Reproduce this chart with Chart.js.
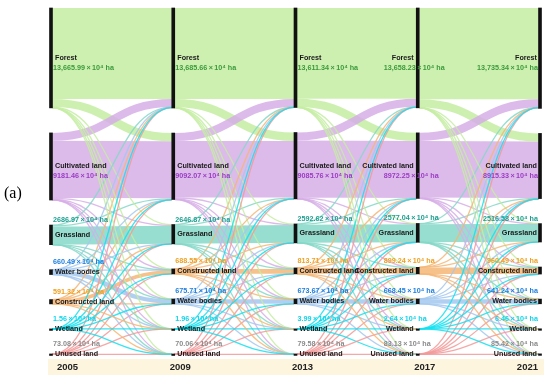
<!DOCTYPE html>
<html>
<head>
<meta charset="utf-8">
<script src="https://cdn.jsdelivr.net/npm/chart.js@4.4.1/dist/chart.umd.min.js"></script>
<style>
  html, body { margin: 0; padding: 0; background: #fff; }
  #wrap { width: 550px; height: 386px; position: relative; }
</style>
</head>
<body>
<div id="wrap"><canvas id="sankey"></canvas></div>
<script>
const years = [2005, 2009, 2013, 2017, 2021];
const landTypes = ["Forest", "Cultivated land", "Grassland", "Water bodies", "Constructed land", "Wetland", "Unused land"];

// area per year, x10^4 ha
const forest = [13665.99, 13685.66, 13611.34, 13658.23, 13735.34];
const cultivated = [9181.46, 9092.07, 9085.76, 8972.25, 8915.33];
const grassland = [2686.97, 2646.87, 2592.62, 2577.04, 2516.58];
const waterBodies = [660.49, 675.71, 673.67, 668.45, 641.24];
const constructed = [591.32, 688.55, 813.71, 899.24, 960.49];
const wetland = [1.56, 1.96, 3.99, 2.64, 6.46];
const unused = [73.08, 70.06, 79.58, 83.13, 85.42];
const areas = [forest, cultivated, grassland, waterBodies, constructed, wetland, unused];

// top-to-bottom order of the land types in each year column
const columnOrder = [
  [0, 1, 2, 3, 4, 5, 6],
  [0, 1, 2, 4, 3, 5, 6],
  [0, 1, 2, 4, 3, 5, 6],
  [0, 1, 2, 4, 3, 5, 6],
  [0, 1, 2, 4, 3, 5, 6]
];

// transfers, row = from, column = to (landTypes order), x10^4 ha
const flows0509 = [
  [12440, 1120, 45, 15, 35, 0.2, 10.8],
  [1090, 7800, 130, 40, 115, 0.3, 6.2],
  [40, 170, 2460, 5, 6, 0.2, 5.8],
  [10, 12, 5, 600, 25, 0.3, 8.2],
  [40, 30, 6, 5, 510, 0.1, 0.2],
  [0.3, 0.3, 0.2, 0.2, 0.2, 0.2, 0.2],
  [4, 6, 4, 10, 1, 0.5, 47.6]
];
const flows0913 = [
  [12440, 1150, 40, 12, 35, 0.3, 8.4],
  [1090, 7745, 110, 40, 100, 0.5, 6.6],
  [30, 165, 2430, 6, 10, 0.3, 5.6],
  [8, 10, 4, 610, 35, 0.5, 8.2],
  [20, 20, 5, 3, 640, 0.2, 0.35],
  [0.3, 0.3, 0.2, 0.3, 0.2, 0.4, 0.26],
  [3, 4, 4, 3, 3, 2, 51.06]
];
const flows1317 = [
  [12420, 1110, 35, 12, 25, 0.4, 8.94],
  [1100, 7815, 80, 35, 50, 0.5, 5.26],
  [25, 90, 2450, 5, 12, 0.3, 10.32],
  [6, 8, 4, 620, 30, 0.6, 5.07],
  [10, 12, 4, 3, 784, 0.3, 0.41],
  [0.6, 0.6, 0.5, 0.6, 0.5, 0.6, 0.59],
  [2, 2, 3.5, 8, 2, 0.5, 61.58]
];
const flows1721 = [
  [12500, 1110, 20, 5, 15, 0.3, 7.93],
  [1100, 7750, 30, 15, 70, 0.4, 6.85],
  [30, 80, 2450, 3, 8, 0.4, 5.64],
  [8, 20, 5, 610, 20, 0.5, 4.95],
  [5, 12, 3, 2, 877, 0.1, 0.14],
  [0.4, 0.4, 0.3, 0.4, 0.3, 0.5, 0.34],
  [2, 3, 8, 4, 1, 4, 61.13]
];
const flows = [flows0509, flows0913, flows1317, flows1721];

const linkColors = ["#c4eda2", "#d6aee6", "#85d8c8", "#a3c8ee", "#f5b676", "#14e0f0", "#f29a9a"];
const valueColors = ["#3c9a3c", "#9b3dc4", "#1b9e8f", "#1e7fe0", "#f0a020", "#10d4ea", "#8a8a8a"];
const GAP = 3425;

// stack the nodes of every column
const nodeTop = years.map((yr, c) => {
  const tops = [];
  let acc = 0;
  columnOrder[c].forEach(t => { tops[t] = acc; acc += areas[t][c] + GAP; });
  return tops;
});
const yMax = Math.max(...years.map((yr, c) => areas.reduce((s, a) => s + a[c], 0))) + GAP * (landTypes.length - 1);

const nodeBars = [];
years.forEach((yr, c) => {
  landTypes.forEach((n, t) => {
    nodeBars.push({ x: yr, y: [nodeTop[c][t], nodeTop[c][t] + areas[t][c]] });
  });
});

function fmt(v) {
  return v >= 10000 ? v.toLocaleString("en-US", { minimumFractionDigits: 2, maximumFractionDigits: 2 }) : v.toFixed(2);
}

const FONT = "'Liberation Sans', Arial, sans-serif";

const sankeyPlugin = {
  id: "sankey",
  beforeDraw(chart) {
    const { ctx, scales: { x } } = chart;
    ctx.save();
    ctx.fillStyle = "#fdf5de";
    ctx.fillRect(48, 359, 496, 16);
    ctx.fillStyle = "#222";
    ctx.font = "bold 9.5px " + FONT;
    ctx.textBaseline = "middle";
    years.forEach((yr, i) => {
      const px = x.getPixelForValue(yr);
      if (i === 0) { ctx.textAlign = "left"; ctx.fillText(String(yr), px + 6, 367); }
      else if (i === years.length - 1) { ctx.textAlign = "right"; ctx.fillText(String(yr), px - 2, 367); }
      else { ctx.textAlign = "center"; ctx.fillText(String(yr), px + 7, 367); }
    });
    ctx.textAlign = "left";
    ctx.fillStyle = "#000";
    ctx.font = "16px 'Liberation Serif', 'Times New Roman', serif";
    ctx.fillText("(a)", 4, 194);
    ctx.restore();
  },
  beforeDatasetsDraw(chart) {
    const { ctx, scales: { x, y } } = chart;
    const k = Math.abs(y.getPixelForValue(1000) - y.getPixelForValue(0)) / 1000;
    const links = [];
    flows.forEach((m, p) => {
      const a = columnOrder[p], b = columnOrder[p + 1];
      const outOff = {}, inOff = {};
      a.forEach(s => { let o = nodeTop[p][s]; b.forEach(t => { outOff[s + "-" + t] = o; o += m[s][t]; }); });
      b.forEach(t => { let o = nodeTop[p + 1][t]; a.forEach(s => { inOff[s + "-" + t] = o; o += m[s][t]; }); });
      a.forEach(s => b.forEach(t => links.push({ p, s, t, v: m[s][t], y0: outOff[s + "-" + t], y1: inOff[s + "-" + t] })));
    });
    links.sort((l1, l2) => l2.v - l1.v);
    ctx.save();
    ctx.lineCap = "butt";
    ctx.globalAlpha = 0.85;
    links.forEach(l => {
      const x0 = x.getPixelForValue(years[l.p]) + 1.5;
      const x1 = x.getPixelForValue(years[l.p + 1]) - 1.5;
      const ya = y.getPixelForValue(l.y0 + l.v / 2);
      const yb = y.getPixelForValue(l.y1 + l.v / 2);
      const xm = (x0 + x1) / 2;
      ctx.beginPath();
      ctx.moveTo(x0, ya);
      ctx.bezierCurveTo(xm, ya, xm, yb, x1, yb);
      ctx.lineWidth = Math.max(1.3, l.v * k);
      ctx.strokeStyle = linkColors[l.s];
      ctx.stroke();
    });
    ctx.restore();
  },
  afterDatasetsDraw(chart) {
    const { ctx, scales: { x, y } } = chart;
    ctx.save();
    ctx.textBaseline = "middle";
    ctx.font = "bold 7.2px " + FONT;
    years.forEach((yr, c) => {
      const px = x.getPixelForValue(yr);
      landTypes.forEach((name, t) => {
        const top = y.getPixelForValue(nodeTop[c][t]);
        const bot = y.getPixelForValue(nodeTop[c][t] + areas[t][c]);
        const mid = (top + bot) / 2;
        const valueY = bot - top > 30 ? mid + 10 : Math.min(mid - 10, top - 5);
        let nameX, nameAlign, valX, valAlign;
        if (c < 3) { nameX = px + 4; nameAlign = "left"; valX = px + 2; valAlign = "left"; }
        else if (c === 3) { nameX = px - 4; nameAlign = "right"; valX = px - 34; valAlign = "left"; }
        else { nameX = px - 3; nameAlign = "right"; valX = px - 2; valAlign = "right"; }
        ctx.fillStyle = "#1a1a1a";
        ctx.textAlign = nameAlign;
        ctx.fillText(name, nameX, mid);
        ctx.fillStyle = valueColors[t];
        ctx.textAlign = valAlign;
        ctx.fillText(fmt(areas[t][c]) + "\u2009\u00d7\u200910\u2074 ha", valX, valueY);
      });
    });
    ctx.restore();
  }
};

new Chart(document.getElementById("sankey"), {
  type: "bar",
  data: {
    datasets: [{
      data: nodeBars,
      backgroundColor: "#111",
      borderWidth: 0,
      barThickness: 3,
      minBarLength: 1.5,
      clip: false
    }]
  },
  options: {
    responsive: true,
    maintainAspectRatio: false,
    animation: false,
    layout: { padding: { left: 51, right: 10, top: 8, bottom: 31.5 } },
    scales: {
      x: { type: "linear", min: 2005, max: 2021, offset: false, display: false },
      y: { min: 0, max: yMax, reverse: true, display: false }
    },
    plugins: { legend: { display: false }, tooltip: { enabled: false } }
  },
  plugins: [sankeyPlugin]
});
</script>
</body>
</html>
